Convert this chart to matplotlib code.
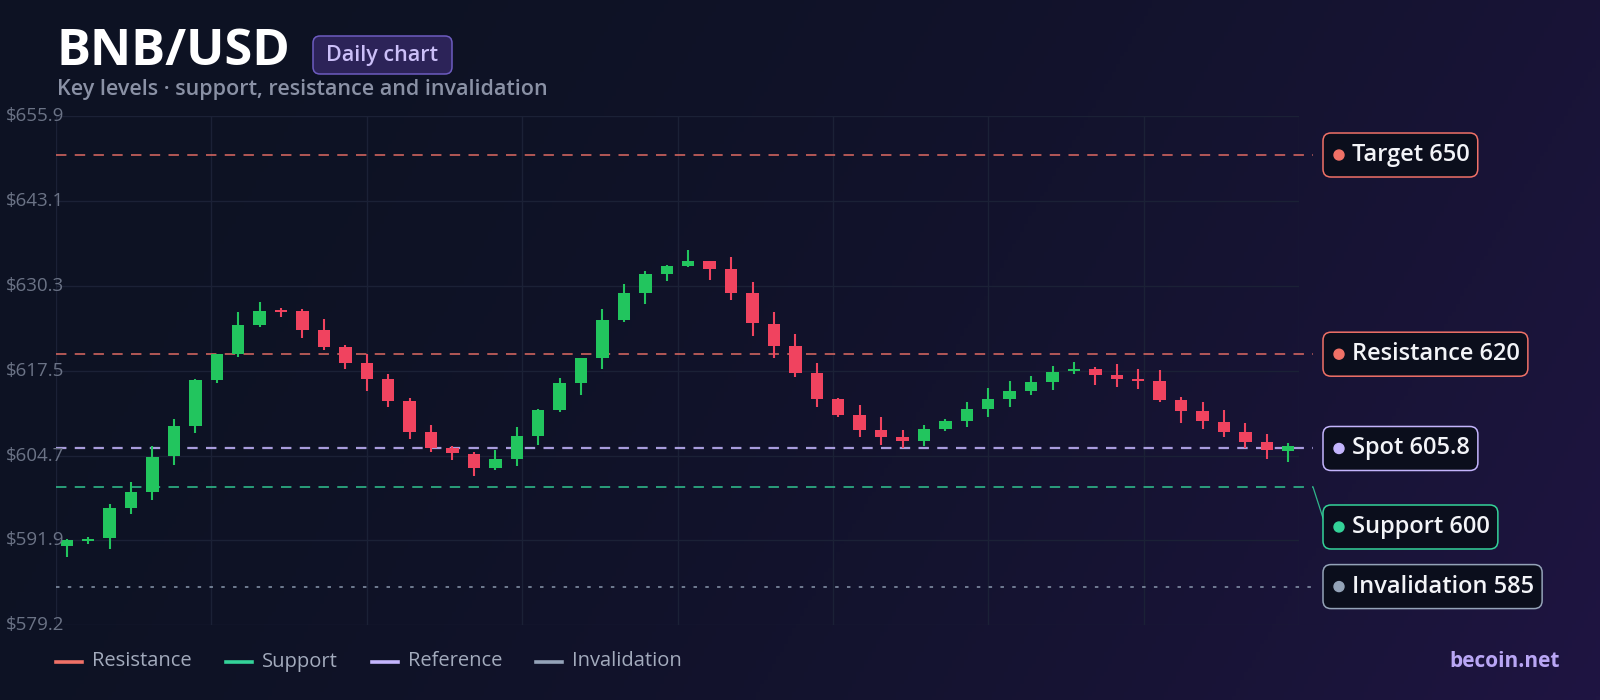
import numpy as np
import matplotlib
matplotlib.use('Agg')
import matplotlib.pyplot as plt
from matplotlib.lines import Line2D
from matplotlib.patches import FancyBboxPatch, Circle
from matplotlib.transforms import IdentityTransform

plt.rcParams['font.family'] = ['Open Sans', 'DejaVu Sans']
plt.rcParams['lines.scale_dashes'] = False

# daily candles
opens = [591.1, 591.9, 592.3, 596.9, 599.2, 604.6, 609.2, 616.1, 620.0, 624.4,
         626.5, 626.5, 623.6, 621.1, 618.6, 616.2, 612.9, 608.3, 605.8, 605.0,
         602.9, 604.2, 607.7, 611.6, 615.7, 619.4, 625.2, 629.2, 632.1, 633.3,
         634.0, 632.9, 629.2, 624.6, 621.3, 617.1, 613.3, 610.9, 608.6, 607.5,
         606.9, 608.7, 610.0, 611.7, 613.2, 614.4, 615.8, 617.5, 617.8, 616.9,
         616.2, 615.9, 613.1, 611.4, 609.8, 608.3, 606.8, 605.4]
highs = [592.1, 592.5, 597.5, 600.7, 606.1, 610.2, 616.2, 620.1, 626.3, 627.8,
         627.0, 626.8, 625.3, 621.4, 620.0, 617.0, 613.4, 609.4, 606.2, 605.2,
         605.6, 609.1, 611.7, 616.4, 619.5, 626.8, 630.6, 632.5, 633.5, 635.7,
         634.1, 634.7, 630.8, 626.3, 623.1, 618.6, 613.4, 612.3, 610.5, 608.6,
         609.4, 610.2, 612.8, 614.9, 616.0, 616.7, 618.2, 618.8, 618.0, 618.5,
         617.8, 617.6, 613.6, 612.8, 611.6, 609.7, 608.0, 606.7]
lows = [589.5, 591.4, 590.6, 595.9, 598.1, 603.3, 608.2, 615.6, 619.6, 624.1,
        625.6, 622.5, 620.6, 617.7, 614.5, 612.0, 607.2, 605.3, 604.0, 601.6,
        602.5, 603.2, 606.3, 611.3, 613.9, 617.7, 624.9, 627.5, 631.0, 633.2,
        631.1, 628.1, 622.7, 619.5, 616.6, 612.0, 610.5, 607.6, 606.3, 605.8,
        606.2, 608.5, 609.1, 610.6, 612.1, 613.9, 614.6, 617.0, 615.3, 615.0,
        614.8, 612.8, 609.6, 608.7, 607.5, 605.8, 604.2, 603.7]
closes = [592.0, 592.1, 596.8, 599.2, 604.5, 609.2, 616.1, 620.0, 624.4, 626.5,
          626.3, 623.6, 621.1, 618.7, 616.3, 613.0, 608.3, 605.8, 605.1, 602.9,
          604.2, 607.7, 611.6, 615.7, 619.4, 625.2, 629.2, 632.1, 633.3, 634.0,
          632.9, 629.2, 624.7, 621.3, 617.1, 613.3, 610.8, 608.6, 607.6, 606.9,
          608.7, 609.9, 611.7, 613.2, 614.4, 615.8, 617.3, 617.8, 616.9, 616.3,
          616.0, 613.1, 611.4, 609.9, 608.3, 606.8, 605.5, 606.1]

y_low, y_high = 579.17, 655.86
y_tick_labels = ['$579.2', '$591.9', '$604.7', '$617.5', '$630.3', '$643.1', '$655.9']

level_names = ['Target', 'Resistance', 'Spot', 'Support', 'Invalidation']
level_values = [650, 620, 605.8, 600, 585]
level_colors = ['#f07167', '#f07167', '#c4b5fd', '#34d399', '#94a3b8']

legend_names = ['Resistance', 'Support', 'Reference', 'Invalidation']
legend_colors = ['#f07167', '#34d399', '#c4b5fd', '#94a3b8']

W, H = 1600, 700
fig = plt.figure(figsize=(16, 7), dpi=100)

# background gradient, dark navy to violet
bg = fig.add_axes([0, 0, 1, 1], zorder=-10)
bg.axis('off')
X, Y = np.meshgrid(np.linspace(0, 1, 400), np.linspace(0, 1, 175))
t = np.clip(0.8 * X + 0.2 * Y, 0, 1) ** 2
c0 = np.array([13, 18, 35]) / 255
c1 = np.array([31, 21, 66]) / 255
img = c0[None, None, :] * (1 - t[..., None]) + c1[None, None, :] * t[..., None]
bg.imshow(img, extent=[0, 1, 0, 1], aspect='auto', origin='upper')

ax = fig.add_axes([56 / W, 1 - 625.3 / H, 1243 / W, 509.2 / H])
ax.set_facecolor('none')
ax.set_xlim(-0.5, len(opens) - 0.5)
ax.set_ylim(y_low, y_high)
for s in ax.spines.values():
    s.set_visible(False)
ax.set_xticks(np.linspace(-0.5, len(opens) - 0.5, 9))
ax.set_yticks(np.linspace(y_low, y_high, 7))
ax.tick_params(length=0, labelleft=False, labelbottom=False)
ax.grid(True, color='#1b2136', lw=1)

# candles
x = np.arange(len(opens))
o = np.array(opens)
c = np.array(closes)
cols = np.where(c >= o, '#22c55e', '#f0435f')
ax.vlines(x, lows, highs, colors=cols, lw=1.5, zorder=3)
ax.bar(x, np.maximum(np.abs(c - o), 0.3), width=0.58, bottom=np.minimum(o, c),
       color=cols, lw=0, zorder=4)

# level lines
line_end = (1313 - 56) / 1243
styles = {'Target': (1.2, (7.5, 6)), 'Resistance': (1.2, (7.5, 6)),
          'Spot': (1.6, (7.5, 6)), 'Support': (1.2, (7.5, 6)),
          'Invalidation': (1.2, (2.5, 6))}
for name, val, col in zip(level_names, level_values, level_colors):
    lw, dash = styles[name]
    ax.plot([0, line_end], [val, val], transform=ax.get_yaxis_transform(),
            color=col, lw=lw, dashes=dash, alpha=0.85, clip_on=False, zorder=2)

# y tick labels
for v, lab in zip(np.linspace(y_low, y_high, 7), y_tick_labels):
    yd = ax.transData.transform((0, v))[1]
    fig.text(6 / W, yd / H, lab, color='#6b7386', fontsize=13.5, va='center', ha='left')

# level labels on the right
renderer = fig.canvas.get_renderer()
for name, val, col in zip(level_names, level_values, level_colors):
    yline = ax.transData.transform((0, val))[1]
    yd = yline - 40 if name == 'Support' else yline
    txt = fig.text(1352 / W, yd / H, f'{name} {val:g}', color='#f3f4f8', fontsize=17,
                   weight='semibold', va='center', ha='left', zorder=6)
    bb = txt.get_window_extent(renderer)
    box = FancyBboxPatch((1323, yd - 22), bb.x1 + 8 - 1323, 44,
                         boxstyle='round,pad=0,rounding_size=8',
                         transform=IdentityTransform(), fc='#0b0e1c', ec=col,
                         lw=1.1, zorder=5)
    fig.add_artist(box)
    fig.add_artist(Circle((1339, yd), 5, transform=IdentityTransform(), color=col, zorder=6))
    if name == 'Support':
        fig.add_artist(Line2D([1313, 1323], [yline, yd + 9], transform=IdentityTransform(),
                              color=col, lw=0.9, alpha=0.85))

# title block
fig.text(57 / W, 1 - 65 / H, 'BNB/USD', color='white', fontsize=36.5, weight='bold',
         va='baseline', ha='left')
fig.add_artist(FancyBboxPatch((313, H - 74), 139, 38, boxstyle='round,pad=0,rounding_size=7',
                              transform=IdentityTransform(), fc='#2c2358', ec='#6d5cc0', lw=1.1))
fig.text(382.5 / W, 1 - 55 / H, 'Daily chart', color='#cbbff8', fontsize=15.5,
         weight='semibold', va='center', ha='center')
fig.text(57 / W, 1 - 95 / H, 'Key levels · support, resistance and invalidation',
         color='#8a91a5', fontsize=15.5, weight='semibold', va='baseline', ha='left')

# legend
xpos = 56
for name, col in zip(legend_names, legend_colors):
    fig.add_artist(Line2D([xpos, xpos + 26], [H - 661.5, H - 661.5],
                          transform=IdentityTransform(), color=col, lw=2.6))
    t_ = fig.text((xpos + 36) / W, 1 - 661.5 / H, name, color='#a3abbd', fontsize=14.5,
                  va='center', ha='left')
    xpos = t_.get_window_extent(renderer).x1 + 34

fig.text(1560 / W, 1 - 661.5 / H, 'becoin.net', color='#b9a6f5', fontsize=15,
         weight='bold', va='center', ha='right')

fig.savefig('out.png', dpi=100)
